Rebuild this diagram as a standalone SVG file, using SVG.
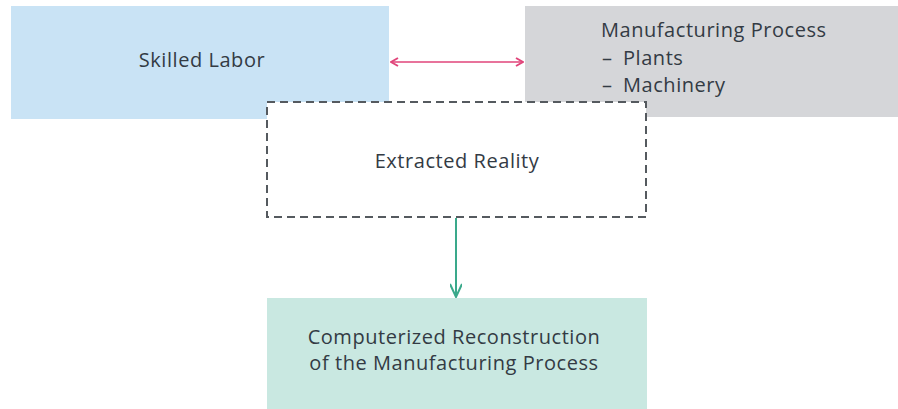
<svg xmlns="http://www.w3.org/2000/svg" width="898" height="409" viewBox="0 0 898 409">
<defs>
<style>
text{font-family:"Open Sans","Noto Sans","Liberation Sans",sans-serif;font-size:20px;letter-spacing:0.55px;fill:#333b44}
.c{text-anchor:middle}
</style>
<marker id="pink" viewBox="0 0 10 10" refX="9" refY="5" markerWidth="10" markerHeight="10" markerUnits="userSpaceOnUse" orient="auto-start-reverse">
<path d="M2 1 L9 5 L2 9" fill="none" stroke="#e0457a" stroke-width="2"/>
</marker>
<marker id="green" viewBox="0 0 16 12" refX="15" refY="6" markerWidth="16" markerHeight="12" markerUnits="userSpaceOnUse" orient="auto">
<path d="M2 0 L15 6 L2 12" fill="none" stroke="#3aa98b" stroke-width="2"/>
</marker>
</defs>
<rect width="898" height="409" fill="#ffffff"/>
<g id="skilled-labor">
<rect x="11" y="6" width="378" height="113" fill="#c9e3f5"/>
<text class="c" x="202" y="67">Skilled Labor</text>
</g>
<g id="manufacturing-process">
<rect x="525" y="6" width="373" height="111" fill="#d5d6d9"/>
<text x="601" y="37">Manufacturing Process</text>
<text x="602" y="65">–<tspan x="623">Plants</tspan></text>
<text x="602" y="92">–<tspan x="623">Machinery</tspan></text>
</g>
<g id="extracted-reality">
<rect x="267" y="102" width="379" height="115" fill="#ffffff" stroke="#555a5f" stroke-width="2" stroke-dasharray="8 5"/>
<text class="c" x="457" y="168">Extracted Reality</text>
</g>
<g id="computerized-reconstruction">
<rect x="267" y="298" width="380" height="111" fill="#c9e8e1"/>
<text class="c" x="454" y="344">Computerized Reconstruction</text>
<text class="c" x="454" y="370">of the Manufacturing Process</text>
</g>
<g id="connectors">
<line x1="391" y1="62" x2="523" y2="62" stroke="#e0457a" stroke-width="1.5" marker-start="url(#pink)" marker-end="url(#pink)"/>
<line x1="456" y1="218" x2="456" y2="297" stroke="#3aa98b" stroke-width="2" marker-end="url(#green)"/>
</g>
</svg>
